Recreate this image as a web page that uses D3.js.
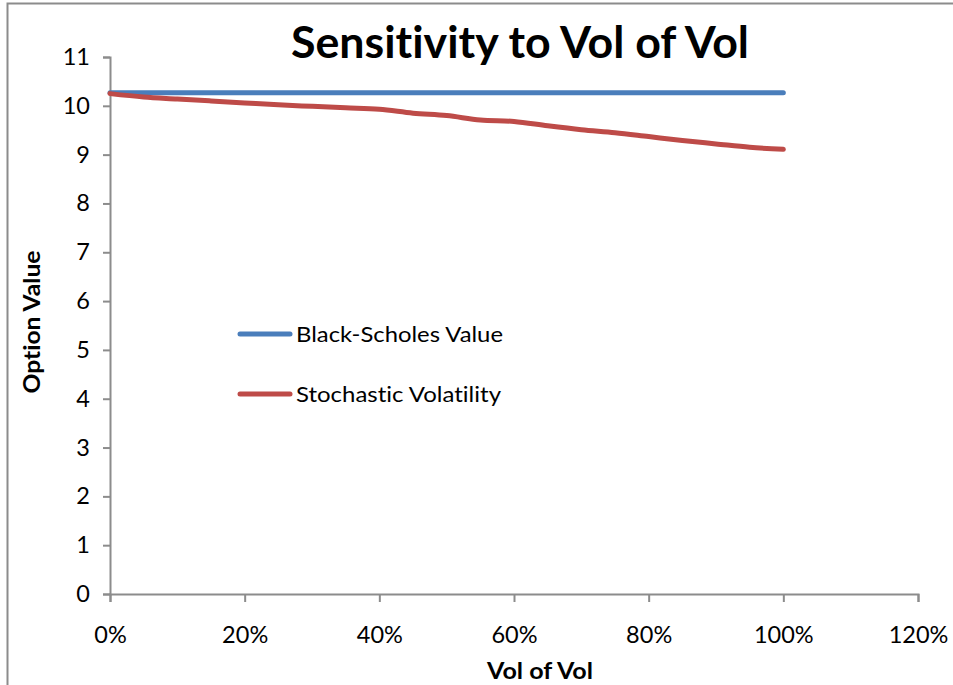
<!DOCTYPE html>
<html>
<head>
<meta charset="utf-8">
<script src="https://cdn.jsdelivr.net/npm/d3@7"></script>
<style>
  body { margin: 0; background: #fff; }
  svg { display: block; font-family: Lato, "Open Sans", sans-serif; font-variant-ligatures: none; }
</style>
</head>
<body>
<div id="chart"></div>
<script>
// data
const volOfVol = [0, 0.05, 0.10, 0.15, 0.20, 0.25, 0.30, 0.35, 0.40, 0.45, 0.50,
                  0.55, 0.60, 0.65, 0.70, 0.75, 0.80, 0.85, 0.90, 0.95, 1.00];
const blackScholes = [10.27, 10.27, 10.27, 10.27, 10.27, 10.27, 10.27, 10.27, 10.27, 10.27, 10.27,
                      10.27, 10.27, 10.27, 10.27, 10.27, 10.27, 10.27, 10.27, 10.27, 10.27];
const stochVol = [10.25, 10.18, 10.14, 10.10, 10.06, 10.02, 9.99, 9.96, 9.93, 9.85, 9.80,
                  9.71, 9.68, 9.59, 9.51, 9.45, 9.37, 9.29, 9.22, 9.15, 9.11];
const xTicks = [0, 0.2, 0.4, 0.6, 0.8, 1.0, 1.2];
const yTicks = [0, 1, 2, 3, 4, 5, 6, 7, 8, 9, 10, 11];
const seriesNames = ["Black-Scholes Value", "Stochastic Volatility"];
const seriesColors = ["#4a7ebb", "#be4b48"];

const W = 953, H = 685;
const margin = { top: 57, left: 110, right: 35, bottom: 91 };

const svg = d3.select("#chart").append("svg")
  .attr("width", W)
  .attr("height", H);

// chart area border (clipped at right and bottom in the original)
svg.append("rect")
  .attr("x", 7.5).attr("y", 3.5)
  .attr("width", W + 20).attr("height", H + 20)
  .attr("fill", "none")
  .attr("stroke", "#8c8c8c")
  .attr("stroke-width", 2);

const x = d3.scaleLinear().domain([0, 1.2]).range([margin.left, W - margin.right]);
const y = d3.scaleLinear().domain([0, 11]).range([H - margin.bottom, margin.top]);

// title
svg.append("text")
  .attr("x", 520).attr("y", 58)
  .attr("text-anchor", "middle")
  .attr("textLength", 458)
  .attr("lengthAdjust", "spacingAndGlyphs")
  .style("font-size", "44px")
  .style("font-weight", "bold")
  .text("Sensitivity to Vol of Vol");

// y axis
const yAxis = svg.append("g")
  .attr("transform", `translate(${margin.left},0)`)
  .call(d3.axisLeft(y).tickValues(yTicks).tickSize(7).tickPadding(13));

// x axis
const xAxis = svg.append("g")
  .attr("transform", `translate(0,${H - margin.bottom})`)
  .call(d3.axisBottom(x).tickValues(xTicks).tickSize(8).tickPadding(24)
    .tickFormat(d3.format(".0%")));

[yAxis, xAxis].forEach(g => {
  g.select(".domain").attr("stroke", "#8c8c8c").attr("stroke-width", 2);
  g.selectAll(".tick line").attr("stroke", "#8c8c8c").attr("stroke-width", 2);
  g.selectAll(".tick text")
    .attr("fill", "#000")
    .style("font-size", "23.5px")
    .style("font-family", "Lato, sans-serif");
});

// axis titles
svg.append("text")
  .attr("transform", "translate(40,322) rotate(-90)")
  .attr("text-anchor", "middle")
  .attr("textLength", 143)
  .attr("lengthAdjust", "spacingAndGlyphs")
  .style("font-size", "22px")
  .style("font-weight", "bold")
  .text("Option Value");

svg.append("text")
  .attr("x", 540).attr("y", 679)
  .attr("text-anchor", "middle")
  .attr("textLength", 106)
  .attr("lengthAdjust", "spacingAndGlyphs")
  .style("font-size", "22px")
  .style("font-weight", "bold")
  .text("Vol of Vol");

// lines
const line = d3.line()
  .x((d, i) => x(volOfVol[i]))
  .y(d => y(d))
  .curve(d3.curveMonotoneX);

[blackScholes, stochVol].forEach((vals, k) => {
  svg.append("path")
    .datum(vals)
    .attr("fill", "none")
    .attr("stroke", seriesColors[k])
    .attr("stroke-width", 5)
    .attr("stroke-linecap", "round")
    .attr("stroke-linejoin", "round")
    .attr("d", line);
});

// legend
const legend = svg.append("g").attr("transform", "translate(240,334)");
seriesNames.forEach((name, k) => {
  const row = legend.append("g").attr("transform", `translate(0,${k * 60})`);
  row.append("line")
    .attr("x1", 0).attr("x2", 50)
    .attr("y1", 0).attr("y2", 0)
    .attr("stroke", seriesColors[k])
    .attr("stroke-width", 5)
    .attr("stroke-linecap", "round");
  row.append("text")
    .attr("x", 56).attr("y", 8)
    .attr("textLength", k === 0 ? 207 : 205)
    .attr("lengthAdjust", "spacingAndGlyphs")
    .style("font-size", "22px")
    .text(name);
});
</script>
</body>
</html>
